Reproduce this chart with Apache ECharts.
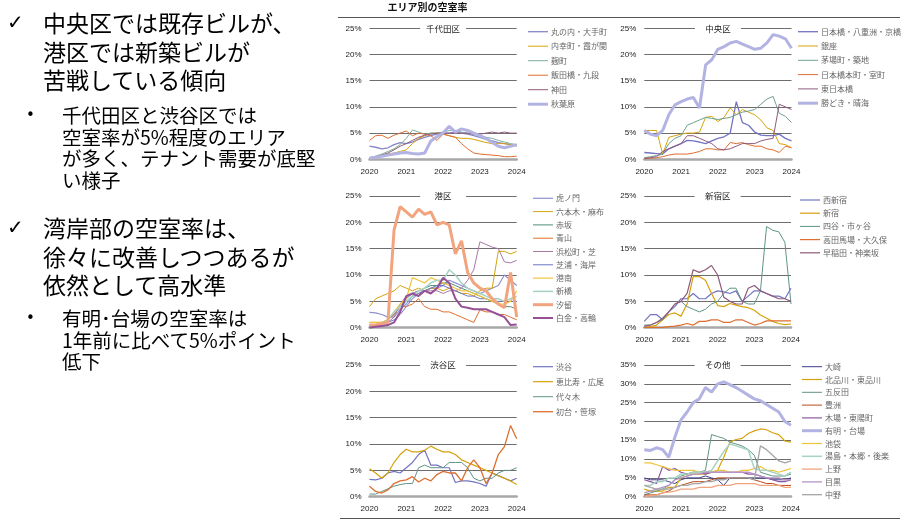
<!DOCTYPE html>
<html lang="ja">
<head>
<meta charset="UTF-8">
<title>エリア別の空室率</title>
<style>
    html, body { margin: 0; padding: 0; background: #fff; }
    #page { position: relative; width: 905px; height: 524px; overflow: hidden; }
    #chart { position: absolute; left: 0; top: 0; width: 905px; height: 524px; }
    .notes { position: absolute; left: 0; top: 0; width: 330px; height: 524px; pointer-events: none;
             font-family: "Noto Sans CJK JP", sans-serif; color: #000; }
    .notes div { position: absolute; white-space: nowrap; }
    .chk { left: 7px; font-family: "DejaVu Sans", sans-serif; font-size: 20px; line-height: 22px; }
    .big { left: 43px; font-size: 23px; line-height: 28.5px; }
    .dot { left: 26px; font-family: "DejaVu Sans", sans-serif; font-size: 15px; line-height: 20px; }
    .small { left: 62px; font-size: 19.5px; line-height: 21.6px; }
</style>
</head>
<body>
<div id="page">
    <div id="chart"></div>
    <div class="notes">
        <div class="chk" style="top:11px">✓</div>
        <div class="big" style="top:8px">中央区では既存ビルが、<br>港区では新築ビルが<br>苦戦している傾向</div>
        <div class="dot" style="top:105px">•</div>
        <div class="small" style="top:104px">千代田区と渋谷区では<br>空室率が5%程度のエリア<br>が多く、テナント需要が底堅<br>い様子</div>

        <div class="chk" style="top:216px">✓</div>
        <div class="big" style="top:213px">湾岸部の空室率は、<br>徐々に改善しつつあるが<br>依然として高水準</div>
        <div class="dot" style="top:308px">•</div>
        <div class="small" style="top:307px">有明･台場の空室率は<br>1年前に比べて5%ポイント<br>低下</div>
    </div>
</div>

<script src="https://cdn.jsdelivr.net/npm/echarts/dist/echarts.min.js"></script>
<script>
// 2か月ごとの時点 (2020/01 〜 2024/01)
var months = ['2020/01', '2020/03', '2020/05', '2020/07', '2020/09', '2020/11',
    '2021/01', '2021/03', '2021/05', '2021/07', '2021/09', '2021/11',
    '2022/01', '2022/03', '2022/05', '2022/07', '2022/09', '2022/11',
    '2023/01', '2023/03', '2023/05', '2023/07', '2023/09', '2023/11', '2024/01'];

// 千代田区
var marunouchi = [2.5, 2.3, 2.0, 2.2, 2.8, 3.2, 3.0, 3.3, 3.8, 4.2, 4.5, 4.8, 5.0, 5.0, 5.2, 5.0, 4.8, 4.5, 4.2, 3.8, 3.5, 3.2, 3.0, 2.8, 2.7];
var uchisaiwai = [0.3, 0.5, 0.8, 1.0, 1.2, 1.5, 1.8, 3.0, 4.0, 4.5, 5.0, 5.0, 4.8, 4.5, 4.2, 4.0, 4.0, 3.8, 3.5, 3.2, 3.0, 3.0, 3.0, 2.8, 2.5];
var kojimachi = [0.2, 0.6, 1.0, 1.5, 2.0, 2.8, 4.0, 5.6, 5.2, 4.8, 5.0, 5.0, 5.2, 5.5, 5.5, 5.2, 5.0, 4.8, 4.5, 4.2, 4.0, 3.6, 3.3, 3.0, 2.8];
var iidabashi = [3.6, 4.5, 4.6, 4.0, 4.6, 5.0, 5.4, 4.5, 5.0, 4.8, 4.5, 3.6, 4.8, 4.5, 4.2, 3.0, 2.0, 1.2, 1.0, 0.9, 0.8, 0.7, 0.5, 0.5, 0.6];
var kanda = [0.3, 0.5, 0.8, 1.2, 1.8, 2.5, 3.0, 3.6, 4.2, 4.6, 4.8, 5.0, 5.0, 5.0, 5.0, 5.0, 5.0, 4.8, 4.8, 5.0, 5.2, 5.0, 5.2, 5.0, 5.0];
var akihabara = [0.2, 0.4, 0.6, 0.8, 1.0, 1.2, 1.3, 1.1, 1.0, 1.2, 3.5, 4.3, 5.0, 6.3, 5.2, 5.8, 5.5, 5.0, 4.5, 4.0, 3.2, 2.5, 2.2, 2.5, 2.8];

// 中央区
var nihonbashi = [1.3, 1.2, 1.1, 1.0, 2.0, 2.5, 3.0, 3.6, 3.5, 3.3, 3.0, 3.5, 4.0, 4.3, 5.0, 11.0, 7.0, 6.5, 5.2, 4.6, 4.5, 4.5, 4.8, 4.0, 3.5];
var ginza = [5.5, 5.5, 5.5, 1.0, 4.2, 4.5, 4.8, 5.0, 5.0, 5.2, 8.0, 8.2, 7.2, 8.0, 9.8, 8.5, 9.5, 9.0, 8.5, 7.5, 6.0, 5.5, 3.0, 2.8, 2.2];
var kayabacho = [0.3, 0.5, 0.7, 1.0, 3.0, 4.0, 4.5, 6.5, 7.0, 7.5, 8.0, 7.8, 7.6, 7.8, 8.0, 8.5, 9.0, 9.2, 9.5, 10.5, 11.5, 12.0, 8.8, 8.2, 7.0];
var honcho = [0.1, 0.2, 0.3, 0.5, 0.8, 1.0, 1.0, 1.0, 1.2, 1.5, 2.0, 2.0, 1.8, 1.8, 3.2, 3.0, 3.2, 2.8, 2.5, 2.5, 2.0, 1.8, 1.3, 2.5, 2.2];
var higashiNihonbashi = [0.2, 0.3, 0.5, 1.5, 2.0, 2.5, 3.0, 4.5, 4.5, 4.0, 3.5, 3.0, 2.0, 1.8, 2.0, 2.5, 3.0, 3.0, 3.0, 3.5, 3.8, 4.0, 10.5, 10.0, 9.5];
var kachidoki = [5.5, 4.8, 4.5, 5.5, 8.5, 10.4, 11.0, 11.5, 11.8, 9.8, 18.0, 19.0, 21.0, 21.5, 22.2, 22.5, 22.0, 21.5, 21.0, 21.2, 22.2, 23.8, 23.5, 23.0, 21.2];

// 港区
var toranomon = [2.9, 2.8, 2.5, 2.0, 2.0, 3.5, 4.5, 6.0, 6.5, 7.0, 7.5, 7.5, 8.0, 9.0, 8.5, 8.0, 7.5, 7.0, 6.5, 7.0, 7.5, 8.0, 10.0, 9.0, 8.0];
var roppongi = [4.0, 5.5, 6.0, 6.5, 7.0, 8.0, 7.5, 7.0, 7.5, 7.0, 7.5, 7.5, 7.0, 7.5, 7.0, 6.5, 6.5, 6.0, 7.0, 7.5, 7.5, 14.5, 14.5, 14.0, 14.5];
var akasaka = [1.0, 1.0, 1.0, 1.5, 2.5, 4.0, 5.5, 6.5, 7.0, 7.5, 8.0, 8.0, 8.5, 8.5, 8.0, 7.5, 7.0, 6.5, 6.0, 5.5, 5.0, 4.5, 4.0, 4.0, 3.5];
var aoyama = [0.5, 0.5, 0.5, 1.5, 2.5, 4.0, 4.0, 4.5, 5.5, 4.0, 3.5, 3.5, 3.0, 3.0, 2.5, 2.0, 1.5, 1.0, 3.4, 3.0, 3.0, 2.5, 2.5, 2.0, 1.5];
var hamamatsucho = [0.5, 0.5, 0.5, 1.0, 2.0, 4.5, 6.0, 6.5, 7.0, 7.0, 7.0, 7.0, 6.5, 7.0, 7.0, 7.5, 9.0, 11.0, 16.3, 15.8, 15.3, 15.0, 12.5, 12.3, 12.8];
var shibaura = [0.3, 0.3, 0.5, 1.0, 1.5, 2.5, 4.0, 5.5, 6.5, 7.0, 7.5, 8.0, 8.0, 7.5, 7.0, 6.5, 6.0, 6.0, 5.5, 5.5, 5.0, 5.0, 5.0, 5.0, 5.0];
var konan = [1.0, 1.0, 1.0, 1.5, 3.0, 4.5, 5.5, 9.5, 9.0, 8.5, 9.5, 9.0, 8.5, 8.0, 7.5, 7.0, 7.0, 6.5, 6.0, 5.5, 5.0, 4.5, 4.5, 5.0, 7.0];
var shinbashi = [0.5, 0.5, 0.5, 1.5, 3.0, 4.0, 5.0, 6.0, 7.0, 7.5, 8.5, 9.0, 9.0, 11.0, 10.0, 8.5, 7.5, 7.0, 6.5, 6.0, 5.5, 5.5, 5.0, 5.5, 6.0];
var shiodome = [0.5, 0.5, 0.8, 1.0, 18.5, 23.0, 22.0, 21.0, 22.5, 21.5, 22.0, 19.5, 20.0, 19.5, 14.0, 16.5, 10.5, 8.5, 7.5, 7.0, 5.5, 4.5, 3.8, 10.5, 2.0];
var shirokane = [0.0, 0.2, 0.3, 0.5, 1.0, 3.0, 6.0, 6.5, 6.0, 7.0, 6.5, 7.5, 9.5, 8.5, 5.5, 4.0, 3.8, 3.5, 3.5, 3.5, 3.0, 2.5, 2.0, 0.5, 0.6];

// 新宿区
var nishiShinjuku = [1.2, 2.5, 2.5, 1.5, 3.0, 4.0, 5.5, 5.5, 6.5, 5.5, 5.5, 6.5, 7.0, 6.8, 6.5, 7.0, 5.0, 6.0, 7.0, 7.0, 6.5, 6.0, 6.0, 5.5, 7.5];
var shinjuku = [0.0, 0.2, 0.5, 1.5, 2.5, 2.8, 2.2, 4.5, 9.7, 9.7, 9.0, 6.5, 4.2, 4.0, 4.6, 4.3, 4.0, 3.8, 3.3, 2.4, 1.8, 1.2, 0.8, 0.6, 0.7];
var yotsuya = [0.5, 0.5, 1.0, 1.5, 3.0, 4.5, 5.0, 4.0, 3.5, 3.0, 3.5, 4.5, 5.0, 6.5, 7.5, 7.5, 5.0, 4.5, 4.5, 7.0, 19.2, 18.5, 18.2, 16.2, 4.5];
var takadanobaba = [0.0, 0.0, 0.0, 0.0, 0.2, 0.3, 0.5, 0.8, 0.5, 1.2, 1.2, 1.5, 1.5, 1.0, 1.0, 1.5, 1.5, 1.0, 0.5, 0.8, 1.3, 1.3, 1.3, 1.3, 1.3];
var waseda = [0.3, 0.5, 1.0, 1.8, 3.0, 4.5, 5.0, 6.5, 11.0, 10.5, 11.0, 11.8, 10.0, 5.8, 5.0, 4.5, 4.5, 7.5, 8.0, 7.0, 6.5, 6.0, 5.5, 5.5, 5.0];

// 渋谷区
var shibuya = [3.3, 3.2, 3.5, 4.5, 4.8, 4.5, 5.5, 6.5, 8.0, 8.8, 6.0, 6.0, 5.5, 5.5, 2.7, 3.0, 3.0, 2.8, 2.5, 2.0, 4.5, 4.0, 3.5, 3.0, 3.5];
var ebisu = [5.3, 4.5, 3.5, 4.5, 6.5, 8.0, 9.0, 8.5, 8.5, 8.8, 9.6, 9.0, 8.5, 8.5, 8.0, 7.0, 6.5, 6.0, 5.5, 5.0, 4.5, 4.0, 3.5, 3.0, 2.3];
var yoyogi = [0.5, 0.5, 1.0, 1.5, 2.0, 2.3, 2.5, 2.5, 5.5, 6.0, 5.5, 5.5, 5.5, 6.5, 6.5, 6.5, 5.5, 3.5, 3.0, 3.5, 3.5, 4.5, 5.0, 5.0, 5.5];
var hatsudai = [2.0, 1.0, 0.7, 1.3, 2.5, 3.0, 3.2, 3.8, 2.8, 3.5, 3.0, 4.2, 4.8, 4.5, 4.5, 3.0, 5.5, 7.0, 5.5, 2.5, 4.5, 8.0, 9.5, 13.5, 11.0];

// その他
var osaki = [5.0, 4.5, 4.5, 4.5, 4.0, 3.5, 4.5, 5.0, 5.0, 5.0, 5.5, 5.0, 4.5, 3.0, 5.0, 5.0, 5.0, 5.0, 5.0, 5.0, 5.0, 4.5, 4.5, 4.5, 5.0];
var kitashinagawa = [2.0, 1.5, 1.5, 1.5, 2.5, 2.5, 5.0, 5.5, 6.0, 6.0, 6.0, 6.5, 7.0, 10.5, 14.5, 15.2, 15.5, 16.8, 17.5, 18.0, 17.8, 17.0, 16.5, 14.8, 14.5];
var gotanda = [0.5, 1.0, 1.5, 2.0, 3.0, 4.5, 5.5, 6.0, 6.5, 6.5, 7.0, 16.5, 16.0, 15.5, 14.5, 14.0, 13.5, 12.5, 11.0, 6.5, 6.0, 5.5, 5.5, 5.5, 6.0];
var toyosu = [0.5, 0.5, 0.5, 1.0, 1.5, 2.5, 3.0, 3.5, 4.0, 4.0, 4.0, 4.5, 5.0, 5.0, 5.0, 5.0, 5.0, 5.0, 4.5, 4.0, 3.5, 3.5, 3.0, 3.0, 3.0];
var kiba = [4.5, 4.0, 3.5, 8.0, 7.0, 7.5, 6.5, 6.0, 6.5, 6.5, 6.0, 6.5, 6.5, 6.5, 6.5, 6.5, 6.5, 6.0, 6.0, 5.5, 5.0, 4.5, 4.0, 4.0, 4.5];
var ariake = [12.5, 12.3, 13.0, 12.5, 10.5, 15.8, 20.4, 22.5, 25.0, 26.0, 29.0, 27.8, 30.0, 30.5, 29.8, 29.0, 28.0, 27.0, 26.0, 25.5, 24.5, 23.5, 22.5, 20.0, 19.0];
var ikebukuro = [9.0, 9.0, 8.5, 8.0, 7.5, 7.0, 7.0, 7.0, 7.0, 6.5, 6.5, 6.5, 7.0, 7.0, 6.5, 6.5, 7.0, 7.0, 7.5, 8.0, 7.0, 7.0, 6.5, 7.0, 7.5];
var yushima = [3.0, 3.0, 4.0, 4.0, 5.0, 5.0, 6.0, 6.0, 6.5, 6.5, 6.5, 7.0, 9.5, 12.0, 14.0, 13.5, 13.0, 12.5, 7.5, 7.0, 7.0, 6.5, 6.0, 5.5, 6.5];
var ueno = [0.0, 0.3, 0.5, 1.0, 1.2, 1.5, 2.0, 2.0, 2.0, 2.5, 2.5, 2.5, 3.0, 3.0, 3.0, 3.5, 3.5, 3.5, 3.5, 3.0, 3.0, 3.0, 3.0, 2.5, 2.5];
var meguro = [1.0, 1.5, 2.0, 2.5, 3.0, 4.5, 5.0, 5.5, 6.0, 6.0, 6.5, 6.5, 6.5, 6.5, 6.5, 6.5, 6.5, 6.5, 6.0, 5.5, 5.0, 5.0, 5.0, 4.5, 4.5];
var nakano = [3.0, 2.5, 2.0, 2.0, 2.0, 2.5, 3.0, 3.0, 3.5, 3.5, 4.0, 4.0, 4.5, 4.5, 5.0, 5.0, 5.0, 5.0, 4.5, 13.5, 12.5, 11.0, 9.5, 9.0, 9.5];

var panelTitles = ['千代田区', '中央区', '港区', '新宿区', '渋谷区', 'その他'];
var yMax = [25, 25, 25, 25, 25, 35];

// パネルごとの系列: [名前, データ, 色, 線幅]
var panels = [
    [
        ['丸の内・大手町', marunouchi, '#8686c6', 1.3],
        ['内幸町・霞が関', uchisaiwai, '#d6a20c', 1],
        ['麹町', kojimachi, '#7fae9e', 1],
        ['飯田橋・九段', iidabashi, '#de6e2e', 1],
        ['神田', kanda, '#8f5a7c', 1],
        ['秋葉原', akihabara, '#b3b3e3', 3]
    ],
    [
        ['日本橋・八重洲・京橋', nihonbashi, '#7474c2', 1.3],
        ['銀座', ginza, '#d6a20c', 1],
        ['茅場町・築地', kayabacho, '#6f9f8f', 1],
        ['日本橋本町・室町', honcho, '#de6e2e', 1],
        ['東日本橋', higashiNihonbashi, '#8f5a7c', 1],
        ['勝どき・晴海', kachidoki, '#b3b3e3', 3]
    ],
    [
        ['虎ノ門', toranomon, '#9090d0', 1.2],
        ['六本木・麻布', roppongi, '#d6a20c', 1],
        ['赤坂', akasaka, '#4f8b7c', 1],
        ['青山', aoyama, '#de6e2e', 1],
        ['浜松町・芝', hamamatsucho, '#a878a8', 1],
        ['芝浦・海岸', shibaura, '#6a74c0', 1],
        ['港南', konan, '#f0c43a', 1.2],
        ['新橋', shinbashi, '#a6d2c4', 1.5],
        ['汐留', shiodome, '#f2a47e', 3],
        ['白金・高輪', shirokane, '#965096', 2]
    ],
    [
        ['西新宿', nishiShinjuku, '#7474c2', 1.2],
        ['新宿', shinjuku, '#d6a20c', 1.2],
        ['四谷・市ヶ谷', yotsuya, '#5f9484', 1],
        ['高田馬場・大久保', takadanobaba, '#de6e2e', 1.2],
        ['早稲田・神楽坂', waseda, '#8f5a7c', 1.2]
    ],
    [
        ['渋谷', shibuya, '#7474c2', 1.2],
        ['恵比寿・広尾', ebisu, '#d6a20c', 1.2],
        ['代々木', yoyogi, '#5f9484', 1],
        ['初台・笹塚', hatsudai, '#de6e2e', 1.3]
    ],
    [
        ['大崎', osaki, '#3c3c8c', 1],
        ['北品川・東品川', kitashinagawa, '#d6a20c', 1.2],
        ['五反田', gotanda, '#5f9484', 1],
        ['豊洲', toyosu, '#b84818', 1],
        ['木場・東陽町', kiba, '#8a58a0', 1.2],
        ['有明・台場', ariake, '#b3b3e3', 3],
        ['池袋', ikebukuro, '#f0c43a', 1.2],
        ['湯島・本郷・後楽', yushima, '#a6d2c4', 1.5],
        ['上野', ueno, '#f2a47e', 1.3],
        ['目黒', meguro, '#b494c6', 1.3],
        ['中野', nakano, '#a6a6a6', 1.3]
    ]
];

// 位置
var grids = [
    {left: 369.5, top: 28.3, width: 147.2, height: 131},
    {left: 644.3, top: 28.3, width: 147.2, height: 131},
    {left: 369.5, top: 196, width: 147.2, height: 131.7},
    {left: 644.3, top: 196, width: 146.7, height: 131.7},
    {left: 369.5, top: 365, width: 147.2, height: 131.7},
    {left: 644.3, top: 365, width: 146.7, height: 131.7}
];
var legendPos = [
    {left: 528, top: 27.7, gap: 6.5},
    {left: 798, top: 27.7, gap: 6.3},
    {left: 533, top: 194.3, gap: 5.3},
    {left: 800, top: 196, gap: 5.2},
    {left: 533, top: 362.7, gap: 7},
    {left: 802, top: 362.7, gap: 4.8}
];

var chart = echarts.init(document.getElementById('chart'));

var labelFont = {fontFamily: 'Liberation Sans', fontSize: 8, color: '#222'};
var xAxes = [], yAxes = [], series = [], legends = [], graphics = [];

// 凡例の線見本（線幅に合わせた細長い矩形）
function lineIcon(w) {
    var h = Math.max(1, w);
    return 'path://M0,0h20v' + h + 'h-20z';
}

grids.forEach(function (g, i) {
    xAxes.push({
        type: 'category', gridIndex: i, data: months, boundaryGap: false,
        axisTick: {show: false},
        axisLine: {lineStyle: {color: '#a8a8a8', width: 2.5}},
        axisLabel: Object.assign({interval: 5, margin: 8, formatter: function (v) { return v.slice(0, 4); }}, labelFont),
        splitLine: {show: false}
    });
    yAxes.push({
        type: 'value', gridIndex: i, min: 0, max: yMax[i], interval: 5,
        axisLine: {show: false}, axisTick: {show: false},
        axisLabel: Object.assign({formatter: '{value}%', margin: 8}, labelFont),
        splitLine: {lineStyle: {color: '#6e6e6e', width: 1}}
    });

    var items = [];
    panels[i].forEach(function (s) {
        items.push({name: s[0], icon: lineIcon(s[3]), itemStyle: {color: s[2], borderWidth: 0}});
        series.push({
            name: s[0], type: 'line', xAxisIndex: i, yAxisIndex: i,
            data: s[1], symbol: 'none', smooth: false,
            lineStyle: {color: s[2], width: s[3]},
            itemStyle: {color: s[2]}
        });
    });

    legends.push({
        orient: 'vertical', left: legendPos[i].left, top: legendPos[i].top,
        itemWidth: 20, itemHeight: 8, itemGap: legendPos[i].gap,
        selectedMode: false, data: items, padding: 0, symbolKeepAspect: true,
        textStyle: {fontFamily: 'Noto Sans CJK JP', fontSize: 8, lineHeight: 8, color: '#666', padding: [0, 0, 0, -2]}
    });

    // パネル見出し（目盛線の上に白抜き）
    var cx = g.left + g.width / 2;
    graphics.push({
        type: 'rect', z: 100, shape: {x: cx - 23, y: g.top - 5, width: 46, height: 10},
        style: {fill: '#fff'}
    });
    graphics.push({
        type: 'text', z: 101, x: cx, y: g.top,
        style: {text: panelTitles[i], fill: '#222', font: '8.5px "Noto Sans CJK JP"',
            textAlign: 'center', textVerticalAlign: 'middle'}
    });
});

// 表題と上下の罫線
graphics.push({
    type: 'text', z: 101, x: 427.5, y: 7.5,
    style: {text: 'エリア別の空室率', fill: '#111', font: 'bold 10px "Noto Sans CJK JP"',
        textAlign: 'center', textVerticalAlign: 'middle'}
});
graphics.push({
    type: 'line', z: 100, shape: {x1: 338, y1: 17.5, x2: 900, y2: 17.5},
    style: {stroke: '#555', lineWidth: 1}
});
graphics.push({
    type: 'line', z: 100, shape: {x1: 340, y1: 518.5, x2: 900, y2: 518.5},
    style: {stroke: '#555', lineWidth: 1}
});

chart.setOption({
    animation: false,
    grid: grids,
    xAxis: xAxes,
    yAxis: yAxes,
    legend: legends,
    series: series,
    graphic: graphics
});
</script>
</body>
</html>
